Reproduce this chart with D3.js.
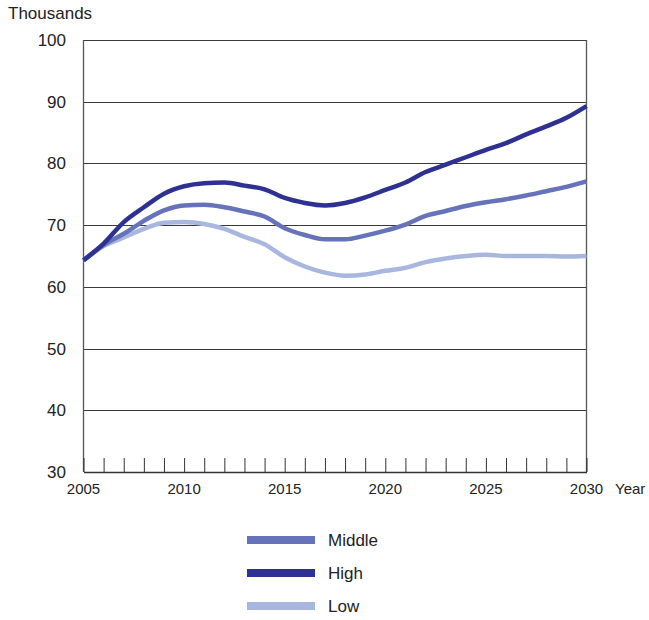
<!DOCTYPE html>
<html><head><meta charset="utf-8">
<script src="https://cdn.jsdelivr.net/npm/d3@7"></script>
<style>body{margin:0;background:#fff}svg{display:block}text{font-family:"Liberation Sans",Arial,sans-serif;fill:#222}</style>
</head><body><svg id="c" width="649" height="620"></svg>
<script>
const years = d3.range(2005, 2031);
const middle = [64.3,66.8,68.6,70.7,72.4,73.2,73.3,72.9,72.2,71.4,69.5,68.4,67.7,67.7,68.3,69.1,70.1,71.5,72.3,73.1,73.7,74.2,74.8,75.5,76.2,77.1];
const high   = [64.3,67.0,70.5,72.9,75.1,76.3,76.8,76.9,76.4,75.8,74.4,73.6,73.2,73.6,74.5,75.7,76.9,78.6,79.8,81.0,82.2,83.3,84.7,86.0,87.4,89.3];
const low    = [64.3,66.6,68.0,69.4,70.4,70.5,70.2,69.4,68.1,66.9,64.8,63.3,62.3,61.8,62.0,62.6,63.1,64.0,64.6,65.0,65.2,65.0,65.0,65.0,64.9,65.0];
const yTicks = [30,40,50,60,70,80,90,100];
const xLabels = [2005,2010,2015,2020,2025,2030];
const series = [
  {name:"Middle", values:middle, color:"#6673ba"},
  {name:"High", values:high, color:"#2e3192"},
  {name:"Low", values:low, color:"#a9b7e0"}
];
const drawOrder = ["Low","Middle","High"];

const svg = d3.select("#c");
const x = d3.scaleLinear().domain([2005,2030]).range([83.5,586.5]);
const y = d3.scaleLinear().domain([30,100]).range([472,40]);

// gridlines
svg.append("g").selectAll("line").data(yTicks.filter(d=>d>30)).join("line")
  .attr("x1",x(2005)).attr("x2",x(2030)).attr("y1",d=>Math.round(y(d))+0.5).attr("y2",d=>Math.round(y(d))+0.5)
  .attr("stroke","#3a3a3a").attr("stroke-width",1);

// frame verticals
svg.append("line").attr("x1",x(2005)).attr("x2",x(2005)).attr("y1",y(100)).attr("y2",y(30)).attr("stroke","#555").attr("stroke-width",1.3);
svg.append("line").attr("x1",x(2030)).attr("x2",x(2030)).attr("y1",y(100)).attr("y2",y(30)).attr("stroke","#555").attr("stroke-width",1.3);

// x axis with ticks
const xAxis = d3.axisBottom(x).tickValues(years).tickSize(0).tickFormat("");
const gx = svg.append("g").attr("transform",`translate(0,${y(30)})`).call(xAxis);
gx.select(".domain").attr("stroke","#333").attr("stroke-width",1.5);
gx.selectAll(".tick").append("line").attr("y1",0).attr("y2",-14).attr("stroke","#333").attr("stroke-width",1);
svg.append("g").selectAll("text").data(xLabels).join("text")
  .attr("x",d=>x(d)).attr("y",494).attr("text-anchor","middle").attr("font-size",15).text(d=>d);
svg.append("text").attr("x",615).attr("y",494).attr("font-size",15).text("Year");

// y labels
svg.append("g").selectAll("text").data(yTicks).join("text")
  .attr("x",66).attr("y",d=>y(d)+6).attr("text-anchor","end").attr("font-size",17).text(d=>d);
svg.append("text").attr("x",8).attr("y",19).attr("font-size",17).text("Thousands");

// lines
const line = d3.line().x((d,i)=>x(years[i])).y(d=>y(d)).curve(d3.curveMonotoneX);
drawOrder.forEach(n=>{
  const s = series.find(s=>s.name===n);
  svg.append("path").datum(s.values).attr("d",line).attr("fill","none")
    .attr("stroke",s.color).attr("stroke-width",4.5).attr("stroke-linejoin","round");
});

// legend
const leg = svg.append("g");
series.forEach((s,i)=>{
  const ly = 540 + i*33;
  leg.append("line").attr("x1",247).attr("x2",315).attr("y1",ly).attr("y2",ly).attr("stroke",s.color).attr("stroke-width",8);
  leg.append("text").attr("x",328).attr("y",ly+6).attr("font-size",17).text(s.name);
});
</script></body></html>
